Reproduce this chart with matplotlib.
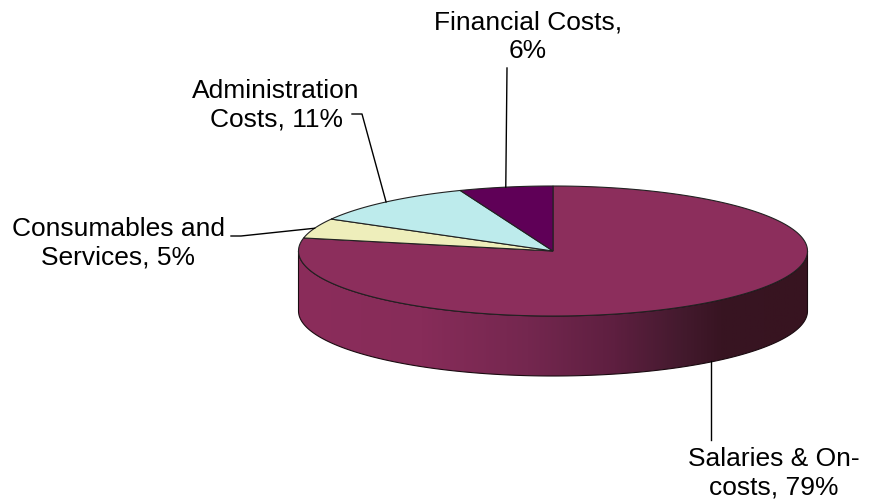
import numpy as np
import matplotlib
matplotlib.use("Agg")
import matplotlib.pyplot as plt
from matplotlib.patches import Polygon
from matplotlib.colors import LinearSegmentedColormap

# data, clockwise from 12 o'clock
labels = ['Salaries & On-\ncosts, 79%', 'Consumables and\nServices, 5%',
          'Administration\nCosts, 11%', 'Financial Costs,\n6%']
values = [79, 5, 11, 6]
colors = ['#8c2e5c', '#eeeebb', '#bdebec', '#5f0057']

# label placement (pixel space) and leader stubs
label_pos = [(774, 473), (118, 243), (276, 105), (528, 37)]
leader_start = [(711, 440), (231, 236), (352, 114), (507, 68)]

cx, cy = 553, 251
rx, ry = 254.5, 65
depth = 60

fig = plt.figure(figsize=(8.69, 5.03), dpi=100)
ax = fig.add_axes([0, 0, 1, 1])


def pt(a, dz=0):
    a = np.radians(a)
    return cx + rx * np.cos(a), cy - ry * np.sin(a) + dz


# side wall (front half only) with shading gradient
ang = np.linspace(180, 360, 200)
bottom = [pt(a, depth) for a in ang]
top = [pt(a) for a in ang[::-1]]
side = Polygon(bottom + top, closed=True, facecolor='none', edgecolor='#1a0a10', lw=0.8, zorder=2)
ax.add_patch(side)
stops = [(0.0, '#8b2d5b'), (0.24, '#872c59'), (0.45, '#74274f'), (0.62, '#5e1f40'),
         (0.75, '#441a2e'), (0.83, '#381422'), (1.0, '#371420')]
cmap = LinearSegmentedColormap.from_list('side', stops)
grad = np.linspace(0, 1, 512).reshape(1, -1)
im = ax.imshow(grad, cmap=cmap, extent=(cx - rx, cx + rx, cy + depth + ry + 2, cy - 2),
               aspect='auto', zorder=1.5)
im.set_clip_path(side)
ax.set_xlim(0, 869)
ax.set_ylim(503, 0)
ax.axis('off')

# top slices
total = float(sum(values))
start = 90.0
mids = []
for v, c in zip(values, colors):
    sweep = v / total * 360
    end = start - sweep
    arc = [pt(a) for a in np.linspace(start, end, 200)]
    ax.add_patch(Polygon([(cx, cy)] + arc, closed=True, facecolor=c,
                         edgecolor='#222222', lw=0.8, zorder=3))
    mids.append((start + end) / 2)
    start = end

# leader lines and labels
for i, (lab, m) in enumerate(zip(labels, mids)):
    sx0, sy0 = leader_start[i]
    if np.sin(np.radians(m)) < 0:
        anchor = pt(m, depth)
        xs = [sx0, sx0]
        ys = [sy0, anchor[1]]
    elif i in (1, 2):
        anchor = pt(m)
        xs = [sx0, sx0 + 10, anchor[0]]
        ys = [sy0, sy0, anchor[1]]
    else:
        anchor = pt(m)
        xs = [sx0, anchor[0]]
        ys = [sy0, anchor[1]]
    ax.plot(xs, ys, color='black', lw=1, zorder=4)
    ax.text(label_pos[i][0], label_pos[i][1], lab, ha='center', va='center',
            fontsize=19, family=['Liberation Sans', 'DejaVu Sans'], linespacing=1.24, zorder=5)

fig.savefig('out.png', dpi=100)
